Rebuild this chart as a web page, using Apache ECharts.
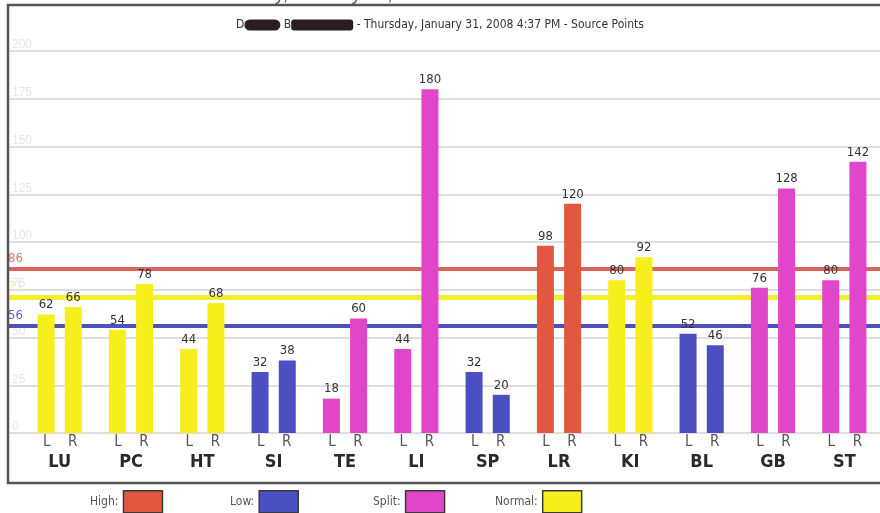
<!DOCTYPE html>
<html>
<head>
<meta charset="utf-8">
<script src="https://cdn.jsdelivr.net/npm/echarts@6/dist/echarts.min.js"></script>
<style>
    html, body {margin: 0; padding: 0; background: #fff;}
    #chart {width: 880px; height: 513px;}
</style>
</head>
<body>
<div id="chart"></div>
<script>
    // meridians, left / right source point readings
    const groups = ['LU', 'PC', 'HT', 'SI', 'TE', 'LI', 'SP', 'LR', 'KI', 'BL', 'GB', 'ST'];
    const leftValues = [62, 54, 44, 32, 18, 44, 32, 98, 80, 52, 76, 80];
    const rightValues = [66, 78, 68, 38, 60, 180, 20, 120, 92, 46, 128, 142];
    const status = ['Normal', 'Normal', 'Normal', 'Low', 'Split', 'Split', 'Low', 'High', 'Normal', 'Low', 'Split', 'Split'];
    const statusNames = ['High', 'Low', 'Split', 'Normal'];
    // reference levels
    const levelNames = ['High', 'Normal', 'Low'];
    const levelValues = [86, 71, 56];
    const yMin = 0, yMax = 200, yStep = 25;

    const colors = {High: '#e2573f', Low: '#4c4fc2', Split: '#e145c9', Normal: '#f6ef1c'};
    const lineColors = {High: '#d9655c', Normal: '#f4ef2e', Low: '#4d51bd'};
    const labelColors = {High: '#dc7a72', Normal: '#f1eba8', Low: '#5d61c6'};
    const narrow = '"DejaVu Sans Condensed", "Liberation Sans Narrow", "Liberation Sans", sans-serif';

    const chart = echarts.init(document.getElementById('chart'));

    const barLabel = {show: true, position: 'top', distance: 3, color: '#333', fontSize: 13, fontFamily: narrow};
    const toData = (vals) => vals.map((v, i) => ({value: v, itemStyle: {color: colors[status[i]]}}));

    const legendAt = [85, 225, 368, 490];

    const option = {
        animation: false,
        title: {
            left: 'center', top: 14,
            text: '{t|D}{b1|}{t| B}{b2|}{t| - Thursday, January 31, 2008 4:37 PM - Source Points}',
            textStyle: {
                fontWeight: 'normal',
                rich: {
                    t: {fontSize: 12, color: '#333', fontWeight: 'normal', fontFamily: narrow},
                    b1: {width: 36, height: 11, backgroundColor: '#2b1b22', borderRadius: 6},
                    b2: {width: 62, height: 11, backgroundColor: '#2b1b22', borderRadius: 3}
                }
            }
        },
        graphic: [
            {
                type: 'text', left: 205, top: -15, z: 10,
                style: {text: 'Thursday, January 31, 2008 4:37 PM - Source Points', fontSize: 19, fill: '#555', fontFamily: 'Arial, sans-serif'}
            },
            {
                type: 'rect', z: 10, silent: true,
                shape: {x: 8, y: 5, width: 885, height: 478},
                style: {fill: 'none', stroke: '#555', lineWidth: 2.5}
            }
        ],
        legend: statusNames.map((n, i) => ({
            data: [n], left: legendAt[i], top: 485, align: 'right', orient: 'horizontal',
            itemWidth: 39, itemHeight: 22, icon: 'rect', selectedMode: false,
            itemStyle: {borderColor: '#3a3a3a', borderWidth: 1.5},
            formatter: (name) => name + ':',
            textStyle: {fontSize: 12, color: '#555', fontFamily: narrow}
        })),
        grid: [
            {left: 8, right: 0, top: 51, bottom: 80},
            {left: 24, right: -3, top: 51, bottom: 80}
        ],
        xAxis: [
            {gridIndex: 0, type: 'value', min: 0, max: 1, show: false},
            {
                gridIndex: 1, type: 'category', data: groups,
                axisLine: {show: false}, axisTick: {show: false},
                axisLabel: {
                    margin: 1, interval: 0,
                    formatter: (v) => '{l|L}{r|R}\n{g|' + v + '}',
                    rich: {
                        l: {width: 26, align: 'center', fontSize: 15, color: '#555', lineHeight: 17, fontFamily: narrow},
                        r: {width: 26, align: 'center', fontSize: 15, color: '#555', lineHeight: 17, fontFamily: narrow},
                        g: {fontSize: 18, fontWeight: 'bold', color: '#2a2a2a', lineHeight: 22, fontFamily: narrow}
                    }
                }
            }
        ],
        yAxis: [
            {
                gridIndex: 0, type: 'value', min: yMin, max: yMax, interval: yStep,
                axisLine: {show: false}, axisTick: {show: false},
                axisLabel: {inside: true, margin: 4, verticalAlign: 'bottom', color: '#e4e4e4', fontSize: 12},
                splitLine: {lineStyle: {color: '#d3d3d3', width: 1.5}}
            },
            {gridIndex: 1, type: 'value', min: yMin, max: yMax, interval: yStep, show: false, splitLine: {show: false}}
        ],
        series: [
            {
                type: 'line', xAxisIndex: 0, yAxisIndex: 0, data: [], z: 1,
                markLine: {
                    silent: true, symbol: 'none', z: 1,
                    data: levelValues.map((v, i) => ({
                        yAxis: v,
                        lineStyle: {color: lineColors[levelNames[i]], width: levelNames[i] === 'Normal' ? 5 : 4, type: 'solid'},
                        label: {
                            show: true, position: 'insideStartTop', distance: [0, 4], formatter: String(v),
                            color: labelColors[levelNames[i]], fontSize: 13, fontFamily: narrow
                        }
                    }))
                }
            },
            {
                name: 'L', type: 'bar', xAxisIndex: 1, yAxisIndex: 1, z: 3,
                barWidth: 17, barGap: '60%', data: toData(leftValues), label: barLabel
            },
            {
                name: 'R', type: 'bar', xAxisIndex: 1, yAxisIndex: 1, z: 3,
                barWidth: 17, barGap: '60%', data: toData(rightValues), label: barLabel
            }
        ].concat(statusNames.map((n) => ({
            // legend-only series, kept on the background grid so they take no bar slot
            name: n, type: 'bar', xAxisIndex: 0, yAxisIndex: 0, data: [],
            itemStyle: {color: colors[n]}
        })))
    };

    chart.setOption(option);
</script>
</body>
</html>
